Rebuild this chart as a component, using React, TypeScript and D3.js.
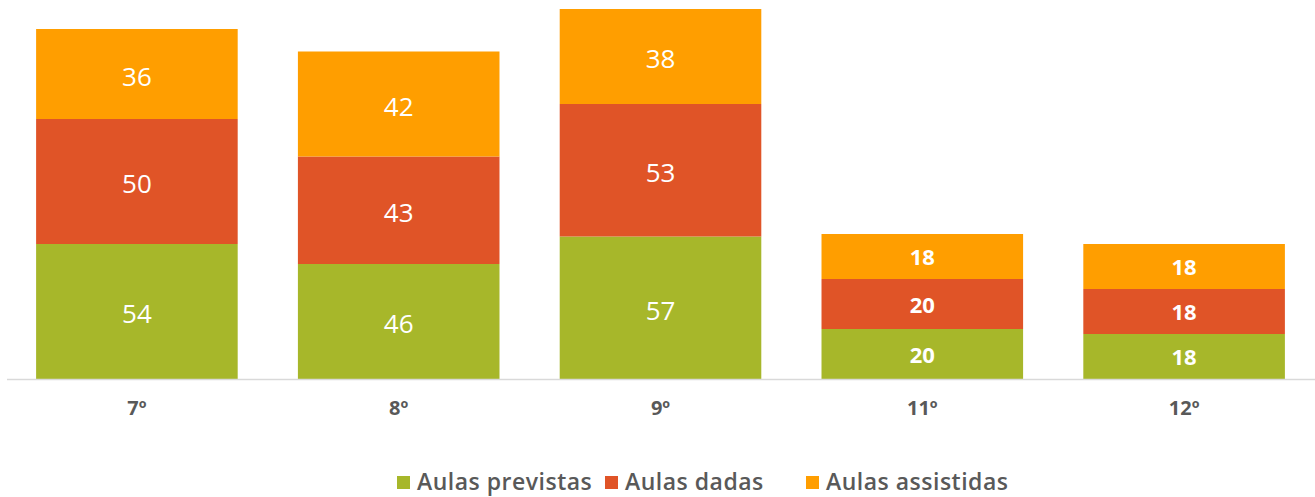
import { scaleBand, scaleLinear, stack } from 'd3'

const categories = ['7º', '8º', '9º', '11º', '12º']
const series = ['Aulas previstas', 'Aulas dadas', 'Aulas assistidas']
const previstas = [54, 46, 57, 20, 18]
const dadas = [50, 43, 53, 20, 18]
const assistidas = [36, 42, 38, 18, 18]
const colors = ['#A7B72A', '#E05427', '#FF9E00']

const width = 1315
const height = 497
const font = "'Open Sans', 'DejaVu Sans', sans-serif"
const textColor = '#595959'

const rows = categories.map((c, i) => ({
  cat: c,
  'Aulas previstas': previstas[i],
  'Aulas dadas': dadas[i],
  'Aulas assistidas': assistidas[i],
}))

const legendX = [397, 605, 806]

function App() {
  const xScale = scaleBand()
    .domain(categories)
    .range([6, 1315])
    .paddingInner(0.23)
    .paddingOuter(0.115)

  const yScale = scaleLinear().domain([0, 148]).range([379, 9])

  const layers = stack().keys(series)(rows as any)

  return (
    <svg width={width} height={height} style={{ position: 'absolute', left: 0, top: 0 }}>
      {layers.map((layer, si) => (
        <g key={series[si]}>
          {layer.map((d, i) => {
            const x = xScale(categories[i])!
            const y0 = yScale(d[0])
            const y1 = yScale(d[1])
            const h = y0 - y1
            const big = h > 70
            return (
              <g key={i}>
                <rect x={x} y={y1} width={xScale.bandwidth()} height={h} fill={colors[si]} />
                <text
                  x={x + xScale.bandwidth() / 2}
                  y={(y0 + y1) / 2 + (big ? 5 : 3)}
                  textAnchor="middle"
                  dominantBaseline="middle"
                  fill="#fff"
                  fontFamily={font}
                  fontSize={big ? 26 : 22}
                  fontWeight={big ? 500 : 700}
                >
                  {d[1] - d[0]}
                </text>
              </g>
            )
          })}
        </g>
      ))}

      <line x1={7} x2={1315} y1={379.5} y2={379.5} stroke="#D9D9D9" strokeWidth={1.5} />

      {categories.map((c) => (
        <text
          key={c}
          x={xScale(c)! + xScale.bandwidth() / 2}
          y={410}
          textAnchor="middle"
          dominantBaseline="middle"
          fill={textColor}
          fontFamily={font}
          fontSize={20}
          fontWeight={700}
        >
          {c}
        </text>
      ))}

      {series.map((s, i) => (
        <g key={s} transform={`translate(${legendX[i]},483)`}>
          <rect x={0} y={-7} width={13} height={13} fill={colors[i]} />
          <text
            x={20}
            y={1}
            dominantBaseline="middle"
            fill={textColor}
            fontFamily={font}
            fontSize={23}
            fontWeight={600}
            letterSpacing={0.5}
          >
            {s}
          </text>
        </g>
      ))}
    </svg>
  )
}

export default App
